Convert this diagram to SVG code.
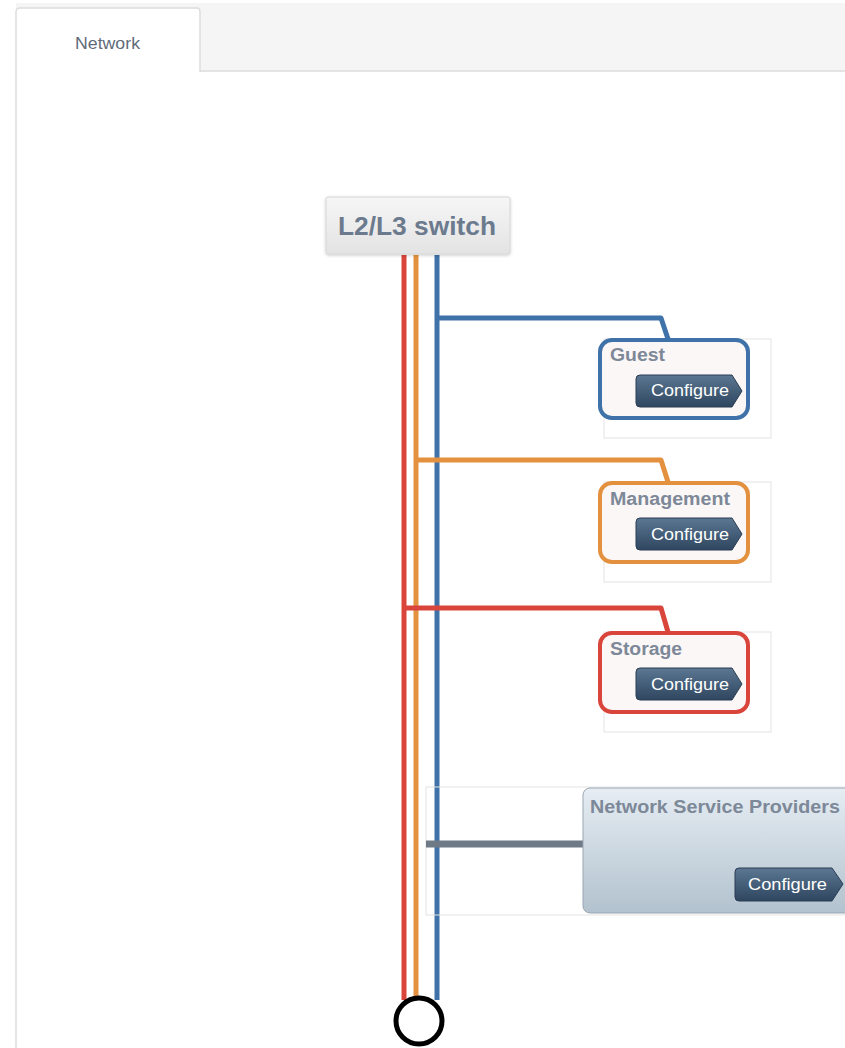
<svg xmlns="http://www.w3.org/2000/svg" width="845" height="1048" viewBox="0 0 845 1048">
<defs>
<linearGradient id="btn" x1="0" y1="0" x2="0" y2="1"><stop offset="0" stop-color="#5b7792"/><stop offset="1" stop-color="#2f4660"/></linearGradient>
<linearGradient id="sw" x1="0" y1="0" x2="0" y2="1"><stop offset="0" stop-color="#f7f6f6"/><stop offset="1" stop-color="#e4e3e4"/></linearGradient>
<linearGradient id="nsp" x1="0" y1="0" x2="0" y2="1"><stop offset="0" stop-color="#e6edf3"/><stop offset="1" stop-color="#b2c2ce"/></linearGradient>
<filter id="sh" x="-10%" y="-10%" width="120%" height="130%"><feDropShadow dx="0" dy="1" stdDeviation="1.5" flood-color="#000000" flood-opacity="0.2"/></filter>
<style>
.t{font-family:"Liberation Sans",Arial,sans-serif}
.lbl{font-family:"Liberation Sans",Arial,sans-serif;font-weight:bold;font-size:18px;fill:#7d8898}
.btxt{font-family:"Liberation Sans",Arial,sans-serif;font-size:17px;fill:#ffffff}
.btn{fill:url(#btn);stroke:#2a3d52;stroke-width:1}
.card{fill:#ffffff;stroke:#e3e3e3;stroke-width:1}
.net{fill:#fbf7f7;stroke-width:4}
.ln{fill:none;stroke-width:5;stroke-linejoin:round}
</style>
</defs>
<rect x="0" y="0" width="845" height="1048" fill="#ffffff"/>
<rect x="16" y="3" width="829" height="68" fill="#f5f5f5"/>
<line x1="200" y1="71" x2="845" y2="71" stroke="#dddddd" stroke-width="1.5"/>
<path d="M16,1048 V12 Q16,8 20,8 H197 Q200,8 200,12 V72" fill="#ffffff" stroke="#dddddd" stroke-width="1.5"/>
<text class="t" x="75" y="49" font-size="17" fill="#5f6b79" textLength="65" lengthAdjust="spacingAndGlyphs">Network</text>

<g id="connectors">
<path class="ln" stroke="#d9453b" d="M404,255 V1000"/>
<path class="ln" stroke="#e3913f" d="M416,255 V1000"/>
<path class="ln" stroke="#3f72a8" d="M437,255 V1000"/>
<path class="ln" stroke="#3f72a8" d="M437,318 H661 L668,339"/>
<path class="ln" stroke="#e3913f" d="M416,460 H661 L668,482"/>
<path class="ln" stroke="#d9453b" d="M404,608 H661 L668,632"/>
</g>

<g id="switch">
<rect x="326" y="197" width="184" height="57" rx="2" fill="url(#sw)" stroke="#d6d6d6" stroke-width="1" filter="url(#sh)"/>
<text class="t" x="338" y="235" font-size="25" font-weight="bold" fill="#6c7a8e" textLength="158" lengthAdjust="spacingAndGlyphs">L2/L3 switch</text>
</g>

<g id="guest">
<rect class="card" x="604" y="339" width="167" height="99"/>
<rect class="net" x="600" y="340" width="148" height="78" rx="12" stroke="#3f72a8"/>
<text class="lbl" x="610" y="361" textLength="55" lengthAdjust="spacingAndGlyphs">Guest</text>
<path class="btn" d="M640,375 H732 L742,391 L732,407 H640 Q636,407 636,403 V379 Q636,375 640,375 Z"/>
<text class="btxt" x="651" y="396" textLength="78" lengthAdjust="spacingAndGlyphs">Configure</text>
</g>

<g id="management">
<rect class="card" x="604" y="482" width="167" height="100"/>
<rect class="net" x="600" y="483" width="148" height="79" rx="12" stroke="#e3913f"/>
<text class="lbl" x="610" y="505" textLength="120" lengthAdjust="spacingAndGlyphs">Management</text>
<path class="btn" d="M640,518 H732 L742,534 L732,550 H640 Q636,550 636,546 V522 Q636,518 640,518 Z"/>
<text class="btxt" x="651" y="540" textLength="78" lengthAdjust="spacingAndGlyphs">Configure</text>
</g>

<g id="storage">
<rect class="card" x="604" y="632" width="167" height="100"/>
<rect class="net" x="600" y="633" width="148" height="79" rx="12" stroke="#d9453b"/>
<text class="lbl" x="610" y="655" textLength="72" lengthAdjust="spacingAndGlyphs">Storage</text>
<path class="btn" d="M640,668 H732 L742,684 L732,700 H640 Q636,700 636,696 V672 Q636,668 640,668 Z"/>
<text class="btxt" x="651" y="690" textLength="78" lengthAdjust="spacingAndGlyphs">Configure</text>
</g>

<g id="nsp">
<rect x="426" y="787" width="425" height="128" fill="none" stroke="#e3e3e3" stroke-width="1"/>
<line x1="426" y1="844" x2="584" y2="844" stroke="#6f7a87" stroke-width="7"/>
<rect x="583" y="788" width="270" height="125" rx="7" fill="url(#nsp)" stroke="#9aa6b0" stroke-width="1"/>
<text class="lbl" x="590" y="813" textLength="250" lengthAdjust="spacingAndGlyphs">Network Service Providers</text>
<path class="btn" d="M739,868 H832 L843,884 L832,901 H739 Q735,901 735,897 V872 Q735,868 739,868 Z"/>
<text class="btxt" x="748" y="890" textLength="79" lengthAdjust="spacingAndGlyphs">Configure</text>
</g>

<g id="end">
<circle cx="419" cy="1021" r="23" fill="#ffffff" stroke="#000000" stroke-width="5"/>
</g>
</svg>
